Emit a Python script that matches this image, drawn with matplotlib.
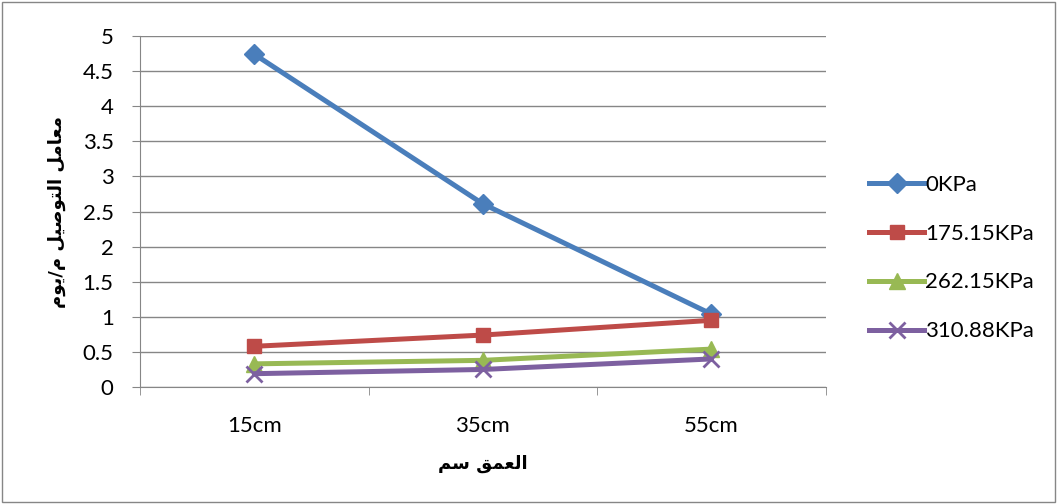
import matplotlib.pyplot as plt
from matplotlib.lines import Line2D

# Arabic presentation forms: (isolated, final, initial, medial)
FORMS = {
    'ا': ('\uFE8D', '\uFE8E', None, None),
    'و': ('\uFEED', '\uFEEE', None, None),
    'ل': ('\uFEDD', '\uFEDE', '\uFEDF', '\uFEE0'),
    'ع': ('\uFEC9', '\uFECA', '\uFECB', '\uFECC'),
    'م': ('\uFEE1', '\uFEE2', '\uFEE3', '\uFEE4'),
    'ق': ('\uFED5', '\uFED6', '\uFED7', '\uFED8'),
    'س': ('\uFEB1', '\uFEB2', '\uFEB3', '\uFEB4'),
    'ت': ('\uFE95', '\uFE96', '\uFE97', '\uFE98'),
    'ص': ('\uFEB9', '\uFEBA', '\uFEBB', '\uFEBC'),
    'ي': ('\uFEF1', '\uFEF2', '\uFEF3', '\uFEF4'),
}


def arabic(text):
    out = []
    for i, ch in enumerate(text):
        if ch not in FORMS:
            out.append(ch)
            continue
        prev = text[i - 1] if i > 0 else ''
        nxt = text[i + 1] if i + 1 < len(text) else ''
        join_prev = prev in FORMS and FORMS[prev][2] is not None
        join_next = nxt in FORMS and FORMS[ch][2] is not None
        iso, fin, ini, med = FORMS[ch]
        if join_prev and join_next:
            out.append(med)
        elif join_prev:
            out.append(fin)
        elif join_next:
            out.append(ini)
        else:
            out.append(iso)
    return ''.join(reversed(out))


depths = ['15cm', '35cm', '55cm']
series_names = ['0KPa', '175.15KPa', '262.15KPa', '310.88KPa']
k_0 = [4.74, 2.61, 1.04]
k_175 = [0.58, 0.74, 0.95]
k_262 = [0.33, 0.38, 0.54]
k_310 = [0.19, 0.25, 0.40]

colors = ['#4A7EBB', '#BE4B48', '#98B954', '#7D60A0']
markers = ['D', 's', '^', 'x']
msizes = [10.5, 10, 11, 11]

plt.rcParams['font.family'] = ['Lato', 'DejaVu Sans']

fig = plt.figure(figsize=(10.57, 5.04), dpi=100)
ax = fig.add_axes([0.1325, 0.2321, 0.6485, 0.6965])

x = range(len(depths))
for vals, c, m, ms in zip([k_0, k_175, k_262, k_310], colors, markers, msizes):
    ax.plot(x, vals, color=c, lw=3.6, marker=m, markersize=ms,
            markeredgewidth=2 if m == 'x' else 1, markeredgecolor=c,
            solid_capstyle='round')

ax.set_xlim(-0.5, 2.5)
ax.set_ylim(0, 5)
ax.set_yticks([i * 0.5 for i in range(11)])
ax.set_yticklabels(['0', '0.5', '1', '1.5', '2', '2.5', '3', '3.5', '4', '4.5', '5'])
ax.set_xticks(list(x))
ax.set_xticklabels(depths)
ax.set_xticks([-0.5, 0.5, 1.5, 2.5], minor=True)
ax.tick_params(axis='x', which='major', length=0, pad=21, labelsize=16)
ax.tick_params(axis='x', which='minor', length=6, color='#868686')
ax.tick_params(axis='y', length=6, color='#868686', labelsize=16, pad=13)

ax.grid(axis='y', color='#868686', lw=1)
ax.set_axisbelow(True)
for s in ['top', 'right']:
    ax.spines[s].set_visible(False)
for s in ['left', 'bottom']:
    ax.spines[s].set_color('#868686')

ax.set_xlabel(arabic('العمق سم'), family='DejaVu Sans', fontweight='bold',
              fontsize=13, labelpad=13)
ax.set_ylabel(arabic('معامل التوصيل م/يوم'), family='DejaVu Sans',
              fontweight='bold', fontsize=13, labelpad=12)

handles = [Line2D([], [], color=c, lw=3.6, marker=m, markersize=ms,
                  markeredgewidth=2 if m == 'x' else 1, markeredgecolor=c)
           for c, m, ms in zip(colors, markers, msizes)]
fig.legend(handles, series_names, loc='center left', bbox_to_anchor=(0.803, 0.488),
           frameon=False, fontsize=16, handlelength=2.5, labelspacing=1.3,
           handletextpad=0.05)

# chart area border
fig.patches.append(plt.Rectangle((0.002, 0.003), 0.996, 0.994, transform=fig.transFigure,
                                 fill=False, edgecolor='#868686', lw=1))

fig.savefig('out.png', dpi=100)
